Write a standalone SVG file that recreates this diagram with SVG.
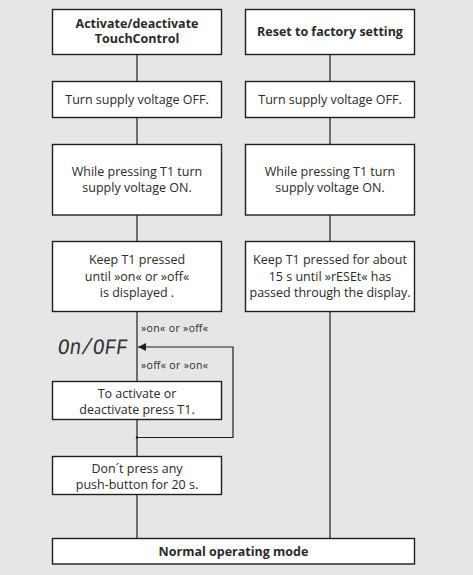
<svg xmlns="http://www.w3.org/2000/svg" width="473" height="575" viewBox="0 0 473 575">
<defs>
<style>
.bg{fill:#e6e6e6}
.box{fill:#fff;stroke:#1e1e1e;stroke-width:1.4}
.t{font-family:"Open Sans","Liberation Sans",sans-serif;font-size:12.5px;fill:#2a2a2a;text-anchor:middle}
.b{font-weight:bold}
.s{font-family:"Open Sans","Liberation Sans",sans-serif;font-size:10.5px;fill:#2a2a2a}
.ln{stroke:#1e1e1e;stroke-width:1.2;fill:none}
.seg{font-family:"Liberation Mono","DejaVu Sans Mono",monospace;font-size:22px;fill:#333}
</style>
<marker id="ah" viewBox="0 0 8 8" refX="8" refY="4" markerWidth="8" markerHeight="8" markerUnits="userSpaceOnUse" orient="auto">
<path d="M0,0 L8,4 L0,8 Z" fill="#1e1e1e"/>
</marker>
</defs>
<rect class="bg" x="0" y="0" width="473" height="575"/>
<g id="connectors">
<line class="ln" x1="137" y1="54" x2="137" y2="538"/>
<line class="ln" x1="330" y1="54" x2="330" y2="538"/>
<polyline class="ln" points="137,437.5 233,437.5 233,347 138,347" marker-end="url(#ah)"/>
<circle cx="137" cy="437.5" r="1.2" fill="#1e1e1e"/>
<text class="s" x="141" y="331.5" textLength="67">»on« or »off«</text>
<text class="s" x="141" y="368.5" textLength="67">»off« or »on«</text>
</g>
<g id="n-activate">
<rect class="box" x="52.5" y="9.5" width="169" height="45"/>
<text class="t b" x="137" y="27.5">Activate/deactivate</text>
<text class="t b" x="137" y="43">TouchControl</text>
</g>
<g id="n-reset">
<rect class="box" x="245.5" y="9.5" width="169" height="45"/>
<text class="t b" x="330" y="35.5">Reset to factory setting</text>
</g>
<g id="n-off-l">
<rect class="box" x="52.5" y="81.5" width="169" height="36"/>
<text class="t" x="137" y="104">Turn supply voltage OFF.</text>
</g>
<g id="n-off-r">
<rect class="box" x="245.5" y="81.5" width="169" height="36"/>
<text class="t" x="330" y="104">Turn supply voltage OFF.</text>
</g>
<g id="n-on-l">
<rect class="box" x="52.5" y="144.5" width="169" height="70.5"/>
<text class="t" x="137" y="175.5">While pressing T1 turn</text>
<text class="t" x="137" y="192">supply voltage ON.</text>
</g>
<g id="n-on-r">
<rect class="box" x="245.5" y="144.5" width="169" height="70.5"/>
<text class="t" x="330" y="175.5">While pressing T1 turn</text>
<text class="t" x="330" y="192">supply voltage ON.</text>
</g>
<g id="n-keep-l">
<rect class="box" x="52.5" y="241.5" width="169" height="70"/>
<text class="t" x="137" y="264">Keep T1 pressed</text>
<text class="t" x="137" y="280.5">until »on« or »off«</text>
<text class="t" x="137" y="297">is displayed .</text>
</g>
<g id="n-keep-r">
<rect class="box" x="245.5" y="241.5" width="169" height="70"/>
<text class="t" x="330" y="264">Keep T1 pressed for about</text>
<text class="t" x="330" y="280.5">15 s until »rESEt« has</text>
<text class="t" x="330" y="297">passed through the display.</text>
</g>
<g id="n-display">
<text class="seg" x="57" y="354.5" transform="skewX(-8) translate(49.8,0)" textLength="70" lengthAdjust="spacingAndGlyphs">On/OFF</text>
</g>
<g id="n-press">
<rect class="box" x="52.5" y="381.5" width="169" height="38"/>
<text class="t" x="137" y="398">To activate or</text>
<text class="t" x="137" y="414">deactivate press T1.</text>
</g>
<g id="n-wait">
<rect class="box" x="52.5" y="456.5" width="169" height="38"/>
<text class="t" x="137" y="473">Don´t press any</text>
<text class="t" x="137" y="489">push-button for 20 s.</text>
</g>
<g id="n-normal">
<rect class="box" x="52.5" y="538.5" width="362" height="25.5"/>
<text class="t b" x="233.5" y="555.5">Normal operating mode</text>
</g>
</svg>
